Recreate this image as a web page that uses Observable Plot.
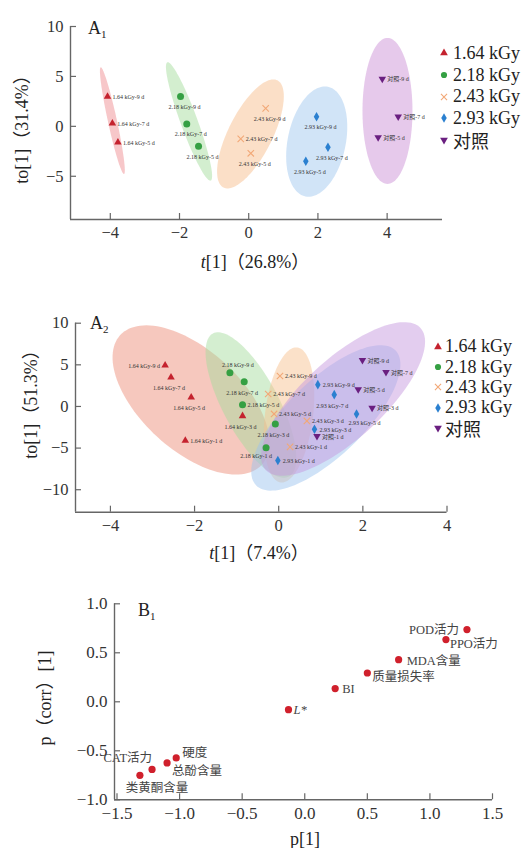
<!DOCTYPE html>
<html><head><meta charset="utf-8">
<script src="https://cdn.jsdelivr.net/npm/d3@7"></script>
<script src="https://cdn.jsdelivr.net/npm/@observablehq/plot@0.6"></script>
<style>
body{margin:0;background:#fff;}
#root{position:relative;width:530px;height:848px;overflow:hidden;font-family:"Liberation Serif","Noto Sans CJK SC",serif;color:#222;background:#fff;}
.panel{position:absolute;left:0;}
.ttl{position:absolute;font-size:18px;white-space:nowrap;transform:translate(-50%,-50%);line-height:1;}
.ttl.rot{transform:translate(-50%,-50%) rotate(-90deg);}
.tag{position:absolute;font-size:18px;line-height:18px;white-space:nowrap;}
.tag span{font-size:11px;position:relative;top:4px;}
.leg{position:absolute;font-size:18px;white-space:nowrap;}
.leg .row{display:flex;align-items:center;}
</style></head><body><div id="root"></div>
<script>
// ---------------- DATA ----------------
const seriesNames = ["1.64 kGy", "2.18 kGy", "2.43 kGy", "2.93 kGy", "对照"];

// Panel A1 (OPLS-DA scores, storage days 9/7/5)
const a1Series = ["1.64 kGy","1.64 kGy","1.64 kGy","2.18 kGy","2.18 kGy","2.18 kGy","2.43 kGy","2.43 kGy","2.43 kGy","2.93 kGy","2.93 kGy","2.93 kGy","对照","对照","对照"];
const a1Days = [9,7,5, 9,7,5, 9,7,5, 9,7,5, 9,7,5];
const a1T  = [-4.08,-3.94,-3.78, -1.97,-1.79,-1.45, 0.49,-0.23,0.06, 1.96,2.29,1.65, 3.86,4.32,3.74];
const a1To = [2.97,0.30,-1.60, 3.00,0.24,-2.00, 1.80,-1.26,-2.70, 0.97,-2.10,-3.50, 4.74,0.97,-1.10];
const a1XTicks = [-4,-2,0,2,4];
const a1YTicks = [-5,0,5,10];

// Panel A2 (storage days 9/7/5/3/1)
const a2Series = ["1.64 kGy","1.64 kGy","1.64 kGy","1.64 kGy","1.64 kGy","2.18 kGy","2.18 kGy","2.18 kGy","2.18 kGy","2.18 kGy","2.43 kGy","2.43 kGy","2.43 kGy","2.43 kGy","2.43 kGy","2.93 kGy","2.93 kGy","2.93 kGy","2.93 kGy","2.93 kGy","对照","对照","对照","对照","对照"];
const a2Days = [9,7,5,3,1, 9,7,5,3,1, 9,7,5,3,1, 9,7,5,3,1, 9,7,5,3,1];
const a2T  = [-2.70,-2.56,-2.08,-0.86,-2.22, -1.16,-0.82,-0.86,-0.08,-0.30, 0.03,-0.25,-0.11,0.67,0.27, 0.93,1.32,1.85,0.85,-0.02, 1.99,2.55,1.89,2.22,0.91];
const a2To = [4.95,3.50,1.10,-1.14,-4.10, 4.06,2.98,0.22,-2.10,-4.95, 3.66,1.50,-0.90,-1.74,-4.86, 2.62,1.42,-0.90,-2.74,-6.50, 5.55,4.12,2.06,-0.18,-3.58];
const a2XTicks = [-4,-2,0,2,4];
const a2YTicks = [-10,-5,0,5,10];

// Panel B1 (loadings)
const b1Names = ["POD活力","PPO活力","MDA含量","质量损失率","BI","L*","硬度","总酚含量","CAT活力","类黄酮含量"];
const b1P    = [1.296,1.128,0.75,0.50,0.243,-0.13,-1.027,-1.10,-1.22,-1.317];
const b1Corr = [0.737,0.635,0.43,0.294,0.135,-0.08,-0.573,-0.624,-0.69,-0.75];
const b1XTicks = [-1.5,-1,-0.5,0,0.5,1,1.5];
const b1YTicks = [-1,-0.5,0,0.5,1];

// ---------------- STYLE / GEOMETRY ----------------
const FONT = '"Liberation Serif","Noto Sans CJK SC",serif';
const axisColor = "#666";
const triangleDown = {draw(ctx, size) {
  const y = -Math.sqrt(size / (Math.sqrt(3) * 3));
  ctx.moveTo(0, -2 * y); ctx.lineTo(-Math.sqrt(3) * y, y); ctx.lineTo(Math.sqrt(3) * y, y); ctx.closePath();
}};
const markerStyle = {
  "1.64 kGy": {symbol: "triangle", r: 2.8, fill: "#c4222e"},
  "2.18 kGy": {symbol: "circle", r: 3.5, fill: "#35a043"},
  "2.43 kGy": {symbol: "times", r: 3, stroke: "#f2a877", strokeWidth: 1.1, fill: "none"},
  "2.93 kGy": {symbol: "diamond", r: 2.9, fill: "#2b80d0"},
  "对照": {symbol: triangleDown, r: 2.8, fill: "#6a1f80"}
};
const legendSym = {"1.64 kGy": d3.symbolTriangle, "2.18 kGy": d3.symbolCircle, "2.43 kGy": d3.symbolTimes, "2.93 kGy": d3.symbolDiamond, "对照": triangleDown};
const a1Fill = {"1.64 kGy": "#ee8a8e", "2.18 kGy": "#a4db9a", "2.43 kGy": "#f7bd8a", "2.93 kGy": "#9fc6ee", "对照": "#cb8ed6"};
const a2Fill = {"1.64 kGy": "#ec8c78", "2.18 kGy": "#a6dc9c", "2.43 kGy": "#f7c08e", "2.93 kGy": "#9ac3ee", "对照": "#c497de"};
const ellipseOpacity = 0.48;

// confidence ellipses: centre in data units, semi-axes in px, angle in screen degrees
const a1Ellipses = [
  {s: "1.64 kGy", cx: -3.94, cy: 0.57, a: 54.6, b: 4.5, angle: 77.7},
  {s: "2.18 kGy", cx: -1.725, cy: 0.49, a: 63, b: 8.5, angle: 69.9},
  {s: "2.43 kGy", cx: 0.05, cy: -0.76, a: 60, b: 22, angle: 116.7},
  {s: "2.93 kGy", cx: 1.965, cy: -1.53, a: 56, b: 29, angle: 101.6},
  {s: "对照", cx: 4.01, cy: 1.54, a: 73, b: 25, angle: 90}
];
const a2Ellipses = [
  {s: "1.64 kGy", cx: -2.085, cy: 0.78, a: 96, b: 50, angle: 42.5},
  {s: "2.18 kGy", cx: -0.66, cy: 0.18, a: 81, b: 28, angle: 62},
  {s: "2.43 kGy", cx: 0.245, cy: -1.02, a: 68, b: 24, angle: 97},
  {s: "2.93 kGy", cx: 1.12, cy: -1.38, a: 97, b: 38, angle: -44},
  {s: "对照", cx: 1.53, cy: 0.9, a: 105, b: 40, angle: -42.5}
];

const place = {
  r: {dx: 5, dy: 0.5, textAnchor: "start"},
  l: {dx: -5, dy: 0.5, textAnchor: "end"},
  b: {dx: 4, dy: 10.5, textAnchor: "middle"},
  b2: {dx: -2, dy: 11, textAnchor: "middle"},
  t: {dx: 8, dy: -8, textAnchor: "middle"},
  br: {dx: -8, dy: 9, textAnchor: "start"},
  bl: {dx: 6, dy: 8, textAnchor: "end"}
};
const a1PlaceSeries = {"2.18 kGy": "b", "2.43 kGy": "b", "2.93 kGy": "b"};
const a1PlacePoint = {"2.43 kGy-7 d": "r"};
const a2PlacePoint = {"1.64 kGy-9 d": "l", "1.64 kGy-7 d": "b2", "1.64 kGy-5 d": "b2", "1.64 kGy-3 d": "b2",
  "2.18 kGy-9 d": "t", "2.18 kGy-7 d": "b2", "2.18 kGy-3 d": "b2", "2.18 kGy-1 d": "bl",
  "2.93 kGy-7 d": "b2", "2.93 kGy-5 d": "br"};
const b1Place = {
  "POD活力": {dx: -8, dy: 0, textAnchor: "end"},
  "PPO活力": {dx: 4, dy: 4, textAnchor: "start"},
  "MDA含量": {dx: 8, dy: 1, textAnchor: "start"},
  "质量损失率": {dx: 5, dy: 4, textAnchor: "start"},
  "BI": {dx: 7, dy: 0, textAnchor: "start"},
  "L*": {dx: 5, dy: 0, textAnchor: "start", fontStyle: "italic"},
  "硬度": {dx: 6, dy: -5, textAnchor: "start"},
  "总酚含量": {dx: 5, dy: 8, textAnchor: "start"},
  "CAT活力": {dx: 0, dy: -11, textAnchor: "end"},
  "类黄酮含量": {dx: 17, dy: 13, textAnchor: "middle"}
};

// ---------------- HELPERS ----------------
function ellipsePts(e, kx, ky, n = 120) {
  const th = e.angle * Math.PI / 180;
  return d3.range(n).map(i => {
    const t = 2 * Math.PI * i / n;
    const px = e.a * Math.cos(t) * Math.cos(th) - e.b * Math.sin(t) * Math.sin(th);
    const py = e.a * Math.cos(t) * Math.sin(th) + e.b * Math.sin(t) * Math.cos(th);
    return {x: e.cx + px / kx, y: e.cy - py / ky};
  });
}

function axes(xd, yd, xTicks, yTicks, fmt, fontSize) {
  return [
    Plot.ruleY([yd[0]], {stroke: axisColor, strokeWidth: 1.4}),
    Plot.ruleX([xd[0]], {stroke: axisColor, strokeWidth: 1.4}),
    Plot.axisX({ticks: xTicks, tickSize: 6, dy: -6, tickFormat: () => "", stroke: axisColor, strokeWidth: 1.2}),
    Plot.axisY({ticks: yTicks, tickSize: 6, dx: 6, tickFormat: () => "", stroke: axisColor, strokeWidth: 1.2}),
    Plot.axisX({ticks: xTicks, tickSize: 0, tickPadding: 7, tickFormat: fmt, fill: "#333", fontSize}),
    Plot.axisY({ticks: yTicks, tickSize: 0, tickPadding: 7, tickFormat: fmt, fill: "#333", fontSize})
  ];
}

function pcaPanel(data, ellipses, fills, cfg, placeOf) {
  const {width = 530, height, ml, mr, mt, mb, xd, yd, xTicks, yTicks} = cfg;
  const kx = (width - ml - mr) / (xd[1] - xd[0]);
  const ky = (height - mt - mb) / (yd[1] - yd[0]);
  const marks = [];
  ellipses.forEach(e => marks.push(Plot.line(ellipsePts(e, kx, ky), {x: "x", y: "y", fill: fills[e.s], fillOpacity: ellipseOpacity, stroke: "none", curve: "linear-closed"})));
  marks.push(...axes(xd, yd, xTicks, yTicks, d3.format("d"), "16.5px"));
  seriesNames.forEach(s => marks.push(Plot.dot(data.filter(d => d.s === s), {x: "x", y: "y", ...markerStyle[s]})));
  Object.keys(place).forEach(k => marks.push(Plot.text(data.filter(d => placeOf(d) === k), {x: "x", y: "y", text: "label", ...place[k], fontSize: 6, fill: "#333"})));
  return Plot.plot({
    width, height, marginLeft: ml, marginRight: mr, marginTop: mt, marginBottom: mb,
    x: {domain: xd, label: null}, y: {domain: yd, label: null},
    style: {fontFamily: FONT, fontSize: "16px", background: "transparent", overflow: "visible"},
    marks
  });
}

const root = document.getElementById("root");
function put(el, top) { el.classList.add("panel"); el.style.top = top + "px"; root.appendChild(el); }
function html(cls, str, left, top) { const d = document.createElement("div"); d.className = cls; d.innerHTML = str; d.style.left = left + "px"; d.style.top = top + "px"; root.appendChild(d); return d; }
function legend(left, top, rowH, gap) {
  const div = document.createElement("div"); div.className = "leg";
  div.style.left = left + "px"; div.style.top = top + "px";
  seriesNames.forEach(s => {
    const row = document.createElement("div"); row.className = "row"; row.style.height = rowH + "px";
    const st = markerStyle[s];
    const path = d3.symbol(legendSym[s], s === "2.18 kGy" ? 30 : 26)();
    const paint = st.stroke ? `fill="none" stroke="${st.stroke}" stroke-width="1.1"` : `fill="${st.fill}"`;
    row.innerHTML = `<svg width="10" height="10" style="flex:none"><path transform="translate(5,5)" d="${path}" ${paint}/></svg><span style="margin-left:${gap}px">${s}</span>`;
    div.appendChild(row);
  });
  root.appendChild(div);
}

// ---------------- A1 ----------------
const a1Data = a1T.map((t, i) => ({s: a1Series[i], label: `${a1Series[i]}-${a1Days[i]} d`, x: t, y: a1To[i]}));
put(pcaPanel(a1Data, a1Ellipses, a1Fill,
  {height: 250, ml: 70, mr: 88, mt: 26, mb: 31, xd: [-5.15, 5.6], yd: [-9.33, 10], xTicks: a1XTicks, yTicks: a1YTicks},
  d => a1PlacePoint[d.label] || a1PlaceSeries[d.s] || "r"), 0);

// ---------------- A2 ----------------
const a2Data = a2T.map((t, i) => ({s: a2Series[i], label: `${a2Series[i]}-${a2Days[i]} d`, x: t, y: a2To[i]}));
put(pcaPanel(a2Data, a2Ellipses, a2Fill,
  {height: 250, ml: 75, mr: 83.5, mt: 22.7, mb: 38.3, xd: [-4.83, 4.0], yd: [-12.7, 10], xTicks: a2XTicks, yTicks: a2YTicks},
  d => a2PlacePoint[d.label] || "r"), 300);

// ---------------- B1 ----------------
const b1Data = b1Names.map((n, i) => ({name: n, x: b1P[i], y: b1Corr[i]}));
const b1xd = [-1.52, 1.5], b1yd = [-1, 1];
const b1Marks = [...axes(b1xd, b1yd, b1XTicks, b1YTicks, d3.format(".1f"), "17px"),
  Plot.dot(b1Data, {x: "x", y: "y", r: 3.6, fill: "#d0202c"})];
b1Data.forEach(d => b1Marks.push(Plot.text([d], {x: "x", y: "y", text: "name", ...b1Place[d.name], fontSize: 12.5, fill: "#444"})));
put(Plot.plot({
  width: 530, height: 260, marginLeft: 114, marginRight: 38, marginTop: 33.3, marginBottom: 30.7,
  x: {domain: b1xd, label: null}, y: {domain: b1yd, label: null},
  style: {fontFamily: FONT, fontSize: "17px", background: "transparent", overflow: "visible"},
  marks: b1Marks
}), 570);

// ---------------- TEXT OVERLAYS ----------------
html("tag", "A<span>1</span>", 88, 19);
html("tag", "A<span>2</span>", 90, 314);
html("tag", "B<span>1</span>", 138, 601);
html("ttl rot", "to[1]（31.4%）", 22, 125);
html("ttl", "<i>t</i>[1]（26.8%）", 255, 262);
html("ttl rot", "to[1]（51.3%）", 31, 400);
html("ttl", "<i>t</i>[1]（7.4%）", 259, 553);
html("ttl rot", "p（corr）[1]", 45, 698);
html("ttl", "p[1]", 305, 839);
legend(439, 42.5, 21.7, 4);
legend(433, 336.5, 20.4, 2);
</script></body></html>
